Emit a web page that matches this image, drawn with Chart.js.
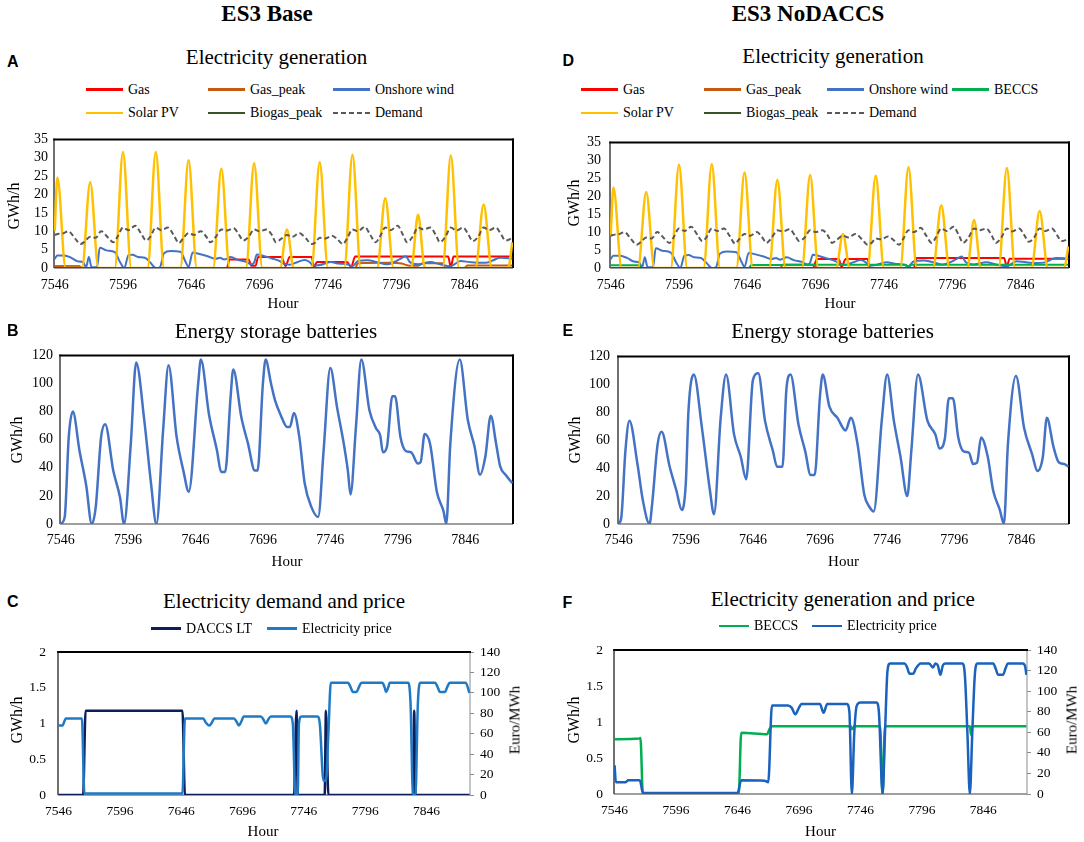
<!DOCTYPE html>
<html>
<head>
<meta charset="utf-8">
<script src="https://cdn.jsdelivr.net/npm/chart.js@4.4.1/dist/chart.umd.min.js"></script>
<style>
body { margin: 0; background: #fff; }
#fig { position: relative; width: 1084px; height: 842px; overflow: hidden; font-family: "Liberation Serif", "Times New Roman", serif; color: #000; }
.t { position: absolute; white-space: nowrap; line-height: 1; transform: translate(-50%, -50%); }
.v { transform: translate(-50%, -50%) rotate(-90deg); }
.letter { font-family: "Liberation Sans", Arial, sans-serif; font-weight: bold; font-size: 16px; transform: translate(0, -50%); }
.lg { position: absolute; display: flex; align-items: center; font-family: "Liberation Serif", "Times New Roman", serif; font-size: 14px; line-height: 1; white-space: nowrap; transform: translateY(-50%); }
.lg i { display: inline-block; margin-right: 5px; }
canvas { position: absolute; }
</style>
</head>
<body>
<div id="fig"></div>
<script>
const SERIF = '"Liberation Serif", "Times New Roman", serif';

// x axis: hours 7546..7881, labelled every 50
const hourMin = 7545.5;
const hourMax = 7881.5;
const hourTicks = [7546, 7596, 7646, 7696, 7746, 7796, 7846];
const genTicks = [0, 5, 10, 15, 20, 25, 30, 35];
const batteryTicks = [0, 20, 40, 60, 80, 100, 120];
const gwhTicks = [0, 0.5, 1, 1.5, 2];
const priceTicks = [0, 20, 40, 60, 80, 100, 120, 140];

// ---- panel A / D : electricity generation (hour, GWh/h) ----
const solarA = [[7546,10],[7548,24.6],[7554,0],[7566,0],[7572,23.4],[7578,0],[7590,0],[7596,31.6],[7602,0],
  [7614,0],[7620,31.6],[7626,0],[7638,0],[7644,29.3],[7650,0],[7662,0],[7668,27],[7674,0],[7686,0],[7692,28.5],[7698,0],
  [7711,0],[7716,10.5],[7721,0],[7734,0],[7740,28.8],[7746,0],[7758,0],[7764,30.8],[7770,0],[7782,0],[7788,19],[7794,0],
  [7807,0],[7812,14.5],[7817,0],[7830,0],[7836,30.6],[7842,0],[7854,0],[7860,17.3],[7866,0],[7878,0],[7881,7]];
const solarD = [[7546,9],[7548,22.4],[7554,0],[7566,0],[7572,21.2],[7578,0],[7590,0],[7596,28.8],[7602,0],
  [7614,0],[7620,28.9],[7626,0],[7638,0],[7644,26.6],[7650,0],[7662,0],[7668,24.6],[7674,0],[7686,0],[7692,25.9],[7698,0],
  [7711,0],[7716,9.5],[7721,0],[7734,0],[7740,25.7],[7746,0],[7758,0],[7764,28.1],[7770,0],[7782,0],[7788,17.5],[7794,0],
  [7807,0],[7812,13.4],[7817,0],[7830,0],[7836,27.9],[7842,0],[7854,0],[7860,15.9],[7866,0],[7878,0],[7881,6]];
const demand = [[7546,9],[7549,9.3],[7552,9.4],[7556,10],[7561,8],[7565,6.5],[7568,7.2],[7572,8.5],[7576,8.2],[7580,10],
  [7585,8.3],[7589,7],[7592,8.5],[7596,11],[7600,10.3],[7605,11.5],[7609,9.5],[7613,7.5],[7616,8.5],[7620,11],[7624,10.3],
  [7629,11],[7633,9],[7637,6.8],[7640,8],[7644,9.5],[7648,9],[7653,10],[7657,8.5],[7660,7],[7664,8.5],[7668,10.5],
  [7672,10.2],[7677,10.8],[7681,9],[7684,7.5],[7688,8.5],[7692,10.5],[7696,10],[7701,10.5],[7705,9],[7708,7],[7712,8],
  [7716,9],[7720,8.5],[7725,9.5],[7730,8],[7734,6.5],[7737,7],[7740,8.2],[7744,8],[7749,8.8],[7753,7.8],[7757,6.5],
  [7760,8],[7764,10.5],[7768,10],[7773,11.2],[7777,9],[7781,7],[7784,8.5],[7788,11],[7792,10.3],[7797,11.5],[7801,9],
  [7804,7],[7808,8.5],[7812,11],[7816,10.5],[7821,11],[7825,9],[7828,7],[7832,8.5],[7836,11],[7840,10.2],[7845,11],
  [7849,9],[7852,7.3],[7856,8.5],[7860,11],[7864,10.3],[7869,11],[7873,9],[7876,7.5],[7879,7.8],[7881,8.5]];
const onshoreWind = [[7546,2.5],[7548,3.4],[7553,3.4],[7558,2.8],[7563,1.8],[7567,1.5],[7569,0.2],[7571,3],[7573,0.2],
  [7577,0.3],[7579,5.5],[7584,4.8],[7590,4.3],[7594,1.5],[7597,0],[7600,3.5],[7603,3.6],[7607,3],[7612,2.8],[7616,1.5],
  [7620,0],[7623,0.2],[7626,4],[7631,4.6],[7638,4.4],[7642,1.5],[7644,0.3],[7647,4.2],[7652,3.8],[7658,3.2],[7664,2.5],
  [7667,2.8],[7670,2.3],[7675,3],[7680,2.2],[7686,1.7],[7690,1],[7692,1.5],[7694,3.7],[7699,3.3],[7705,2.6],[7710,2],
  [7714,1.2],[7718,0.9],[7723,1.5],[7729,2.2],[7733,1.5],[7735,0.6],[7740,0.8],[7748,1.6],[7754,1.2],[7760,1],[7764,0.5],
  [7768,1.9],[7775,2.1],[7782,1.6],[7789,1],[7794,1.5],[7799,2.5],[7803,3.2],[7806,1.6],[7812,1],[7821,1.6],[7828,1],
  [7836,0.5],[7843,1.9],[7850,1.6],[7858,1.4],[7863,1.5],[7867,2.1],[7872,2.8],[7877,2.7],[7881,2.5]];
const gasA = [[7546,0.4],[7564,0.4],[7566,0],[7672,0],[7674,2.3],[7688,2.3],[7690,0.6],[7693,0.6],[7695,3],[7712,3],
  [7715,0.5],[7718,3],[7734,3],[7736,0.2],[7738,1.6],[7760,1.6],[7763,0.3],[7766,3.1],[7834,3.1],[7836,0.3],[7838,3.1],[7881,3.1]];
const gasPeakA = [[7546,0.5],[7564,0.5],[7566,0],[7766,0],[7768,1.3],[7792,1.4],[7800,1.2],[7806,0.6],[7812,0.6],
  [7816,1.3],[7830,1.3],[7832,0],[7846,0],[7848,0.7],[7881,0.7]];
const gasD = [[7546,0],[7694,0],[7697,2.5],[7713,2.5],[7715,0.3],[7718,2.5],[7734,2.5],[7736,0],[7768,0],[7770,2.8],
  [7834,2.8],[7836,0.3],[7838,2.6],[7881,2.6]];
const gasPeakD = [[7546,0],[7670,0],[7672,0.9],[7695,0.9],[7697,0],[7881,0]];
const biogasPeak = [[7546,0],[7881,0]];
const beccs = [[7546,0.76],[7566,0.77],[7567,0.78],[7569,0],[7647,0],[7649,0.85],[7670,0.83],[7672,0.9],[7674,0.94],
  [7738,0.94],[7739,0.9],[7741,0.94],[7762,0.94],[7764,0],[7766,0.94],[7835,0.94],[7836,0.82],[7837,0.94],[7881,0.94]];

// ---- panel B / E : energy storage batteries (GWh/h) ----
const batteryB = [[7546,0],[7549,5],[7552,62],[7555,80],[7560,52],[7565,27],[7569,0],[7572,12],[7576,62],[7579,71],
  [7585,38],[7590,19],[7593,0],[7598,57],[7602,115],[7608,74],[7613,29],[7617,0],[7622,67],[7626,113],[7632,62],[7637,38],
  [7641,23],[7648,100],[7650,117],[7656,78],[7662,52],[7665,37],[7668,37],[7672,90],[7674,110],[7680,76],[7685,57],
  [7690,38],[7692,38],[7696,100],[7698,117],[7702,100],[7705,88],[7709,78],[7714,69],[7716,69],[7719,79],[7723,62],
  [7727,29],[7732,12],[7737,5],[7741,52],[7746,111],[7751,83],[7756,57],[7759,38],[7761,21],[7765,69],[7769,117],
  [7775,81],[7780,68],[7783,63],[7785,51],[7788,55],[7792,91],[7794,91],[7798,62],[7802,52],[7806,51],[7811,43],
  [7813,44],[7816,64],[7820,57],[7825,23],[7830,9],[7832,0],[7835,57],[7842,117],[7848,74],[7853,55],[7857,35],
  [7861,48],[7865,77],[7869,57],[7872,41],[7876,35],[7881,29]];
const batteryE = [[7546,0],[7548,5],[7551,52],[7554,74],[7560,43],[7564,17],[7569,0],[7571,15],[7575,57],[7578,66],
  [7584,41],[7589,24],[7593,10],[7596,29],[7598,81],[7602,107],[7608,69],[7614,24],[7617,7],[7622,76],[7626,107],
  [7632,64],[7637,48],[7641,32],[7646,103],[7650,108],[7655,74],[7661,52],[7664,41],[7668,41],[7671,97],[7674,107],
  [7680,71],[7685,52],[7689,35],[7692,35],[7696,92],[7698,107],[7703,84],[7709,76],[7715,67],[7719,76],[7724,57],
  [7729,21],[7733,12],[7736,9],[7742,74],[7746,107],[7751,74],[7756,48],[7761,20],[7764,52],[7769,107],[7776,74],
  [7782,64],[7785,54],[7789,61],[7792,90],[7795,90],[7799,62],[7803,52],[7807,51],[7810,43],[7813,44],[7816,62],
  [7821,48],[7825,24],[7830,10],[7833,0],[7836,57],[7842,106],[7848,69],[7854,50],[7858,38],[7862,48],[7865,76],
  [7870,55],[7874,44],[7878,43],[7881,41]];

// ---- panel C / F : GWh/h (left) and Euro/MWh (right) ----
const daccsLT = [[7546,0],[7566,0],[7568,1.18],[7647,1.18],[7649,0],[7738,0],[7740,1.18],[7741,0],[7763,0],[7764,1.18],
  [7766,0],[7835,0],[7836,1.18],[7837,0],[7881,0]];
const priceC = [[7546,68],[7549,68],[7552,75],[7565,75],[7567,1.5],[7647,1.5],[7649,75],[7664,75],[7666,71],[7669,68],
  [7671,71],[7673,75],[7689,75],[7691,72],[7693,68],[7695,72],[7697,77],[7711,77],[7713,74],[7715,70],[7717,74],[7719,77],
  [7735,77],[7737,70],[7739,0],[7741,0],[7742,70],[7744,77],[7757,77],[7759,70],[7762,14],[7764,14],[7766,60],[7768,110],
  [7782,110],[7784,106],[7786,101],[7789,101],[7791,106],[7793,110],[7810,110],[7812,105],[7813,101],[7815,106],
  [7816,110],[7831,110],[7833,90],[7835,0],[7837,0],[7839,90],[7841,110],[7853,110],[7855,106],[7857,101],[7861,101],
  [7863,106],[7865,110],[7878,110],[7881,100]];
const priceF = [[7546,28],[7547,11.5],[7555,11.5],[7557,13.4],[7566,13.4],[7567,12],[7569,1],[7646,1],[7649,13.4],
  [7668,13],[7671,11.5],[7674,86],[7687,86],[7690,84],[7693,77.5],[7696,84],[7698,87.5],[7713,87.5],[7716,79],[7719,87.5],
  [7735,87.5],[7737,80],[7739,0],[7741,60],[7743,86],[7746,89],[7759,89],[7761,80],[7764,0],[7766,60],[7768,120],
  [7770,127],[7782,127],[7784,123],[7786,117],[7789,117],[7791,122],[7795,127],[7802,127],[7805,123],[7807,127],
  [7809,125],[7811,116],[7813,125],[7815,127],[7829,127],[7831,115],[7833,60],[7835,0],[7837,60],[7839,115],[7841,127],
  [7854,127],[7856,122],[7858,116],[7862,116],[7864,122],[7866,127],[7878,127],[7880,124],[7881,116]];

const fig = document.getElementById('fig');

function addText(txt, x, y, cls, size, weight) {
  const d = document.createElement('div');
  d.className = 't ' + (cls || '');
  d.textContent = txt;
  d.style.left = x + 'px';
  d.style.top = y + 'px';
  if (size) d.style.fontSize = size + 'px';
  if (weight) d.style.fontWeight = weight;
  fig.appendChild(d);
}

function addLegend(entries, y, lineLen) {
  entries.forEach(([s, x]) => {
    const d = document.createElement('div');
    d.className = 'lg';
    d.style.left = x + 'px';
    d.style.top = y + 'px';
    const mark = document.createElement('i');
    mark.style.width = lineLen + 'px';
    mark.style.height = (s.dash ? 2 : 2.5) + 'px';
    mark.style.background = s.dash
      ? `repeating-linear-gradient(90deg, ${s.color} 0 ${s.dash[0]}px, transparent ${s.dash[0]}px ${s.dash[0] + s.dash[1]}px)`
      : s.color;
    d.appendChild(mark);
    d.appendChild(document.createTextNode(s.label));
    fig.appendChild(d);
  });
}

const framePlugin = {
  id: 'frame',
  beforeDatasetsDraw(chart, args, opts) {
    const { ctx, chartArea: a } = chart;
    const seg = (x1, y1, x2, y2, c, w) => {
      ctx.beginPath(); ctx.strokeStyle = c; ctx.lineWidth = w;
      ctx.moveTo(x1, y1); ctx.lineTo(x2, y2); ctx.stroke();
    };
    ctx.save();
    seg(a.left, a.bottom, a.right, a.bottom, '#7f7f7f', 1.5);
    seg(a.left, a.top - 1, a.left, a.bottom, '#404040', 1.5);
    seg(a.right, a.top - 1, a.right, a.bottom, opts.rightColor, opts.rightWidth);
    seg(a.left - 0.75, a.top, a.right + 1, a.top, '#000', 2);
    ctx.restore();
  }
};

function makeChart(p) {
  const padL = 50, padT = 14, padB = 34, padR = p.right ? 50 : 14;
  const w = p.r - p.l, h = p.b - p.t;
  const cv = document.createElement('canvas');
  cv.width = w + padL + padR;
  cv.height = h + padT + padB;
  cv.style.left = (p.l - padL) + 'px';
  cv.style.top = (p.t - padT) + 'px';
  fig.appendChild(cv);

  const font = { family: SERIF, size: p.fs || 14 };
  const fixTicks = arr => s => { s.ticks = arr.map(v => ({ value: v })); };
  const n = p.series.length;
  const scales = {
    x: {
      type: 'linear', min: hourMin, max: hourMax,
      grid: { display: false, drawTicks: false }, border: { display: false },
      afterBuildTicks: fixTicks(hourTicks),
      afterFit: s => { s.height = padB; },
      ticks: { autoSkip: false, maxRotation: 0, padding: p.xPad, color: '#000', font, callback: v => String(v) }
    },
    y: {
      position: 'left', min: p.left[0], max: p.left[p.left.length - 1],
      grid: { display: false, drawTicks: false }, border: { display: false },
      afterBuildTicks: fixTicks(p.left),
      afterFit: s => { s.width = padL; },
      ticks: { autoSkip: false, padding: p.yPad, color: '#000', font, callback: v => String(v) }
    }
  };
  if (p.right) {
    scales.y2 = {
      position: 'right', min: p.right[0], max: p.right[p.right.length - 1],
      grid: { display: true, drawOnChartArea: false, drawTicks: true, tickLength: 4, color: '#8c8c8c', lineWidth: 1 },
      border: { display: false },
      afterBuildTicks: fixTicks(p.right),
      afterFit: s => { s.width = padR; },
      ticks: { autoSkip: false, padding: 6, color: '#000', font, callback: v => String(v) }
    };
  }

  new Chart(cv, {
    type: 'line',
    data: {
      datasets: p.series.map((s, i) => ({
        label: s.label,
        data: s.data.map(([x, y]) => ({ x, y })),
        borderColor: s.color,
        borderWidth: s.width || 2,
        borderDash: s.dash || [],
        pointRadius: 0,
        fill: false,
        cubicInterpolationMode: 'monotone',
        yAxisID: s.axis || 'y',
        order: n - i
      }))
    },
    options: {
      responsive: false,
      animation: false,
      events: [],
      layout: { padding: { top: padT, right: p.right ? 0 : padR, left: 0, bottom: 0 } },
      scales,
      plugins: {
        legend: { display: false },
        tooltip: { enabled: false },
        frame: p.right ? { rightColor: '#8c8c8c', rightWidth: 1 } : { rightColor: '#000', rightWidth: 2 }
      }
    },
    plugins: [framePlugin]
  });
}

// series definitions
const sGas = c => ({ label: 'Gas', data: c, color: '#ff0000' });
const sGasPeak = c => ({ label: 'Gas_peak', data: c, color: '#c55a11' });
const sWind = { label: 'Onshore wind', data: onshoreWind, color: '#4472c4' };
const sSolar = c => ({ label: 'Solar PV', data: c, color: '#ffc000', width: 2.5 });
const sBiogas = { label: 'Biogas_peak', data: biogasPeak, color: '#375623' };
const sDemand = { label: 'Demand', data: demand, color: '#595959', dash: [5, 3] };
const sBeccs = { label: 'BECCS', data: beccs, color: '#00b050' };

const genA = [sGas(gasA), sGasPeak(gasPeakA), sWind, sSolar(solarA), sBiogas, sDemand];
const genD = [sGas(gasD), sGasPeak(gasPeakD), sWind, sBeccs, sSolar(solarD), sBiogas, sDemand];
const batB = [{ label: 'Batteries', data: batteryB, color: '#4472c4', width: 2.5 }];
const batE = [{ label: 'Batteries', data: batteryE, color: '#4472c4', width: 2.5 }];
const demC = [
  { label: 'DACCS LT', data: daccsLT, color: '#0d1e5a', width: 2.5 },
  { label: 'Electricity price', data: priceC, color: '#1f7ac6', width: 2.5, axis: 'y2' }
];
const genF = [
  { label: 'BECCS', data: beccs, color: '#00b050', width: 2.5 },
  { label: 'Electricity price', data: priceF, color: '#1a62be', width: 2.5, axis: 'y2' }
];

makeChart({ l: 54, t: 139, r: 513, b: 268, series: genA, left: genTicks, xPad: 9, yPad: 6 });
makeChart({ l: 610, t: 139, r: 1069, b: 268, series: genD, left: genTicks, xPad: 9, yPad: 9 });
makeChart({ l: 60, t: 354, r: 513, b: 524, series: batB, left: batteryTicks, xPad: 8, yPad: 7 });
makeChart({ l: 618, t: 354, r: 1069, b: 524, series: batE, left: batteryTicks, xPad: 8, yPad: 8 });
makeChart({ l: 58, t: 646, r: 470, b: 795, series: demC, left: gwhTicks, right: priceTicks, xPad: 8, yPad: 12, fs: 13.5 });
makeChart({ l: 614, t: 645, r: 1027, b: 794, series: genF, left: gwhTicks, right: priceTicks, xPad: 8, yPad: 11, fs: 13.5 });

// headings and panel titles
addText('ES3 Base', 267, 13, '', 23, 'bold');
addText('ES3 NoDACCS', 808, 13, '', 23, 'bold');
addText('Electricity generation', 276.5, 56.5, '', 21);
addText('Electricity generation', 833, 56, '', 21);
addText('Energy storage batteries', 276, 331, '', 21);
addText('Energy storage batteries', 832.6, 331, '', 21);
addText('Electricity demand and price', 284, 601, '', 21);
addText('Electricity generation and price', 842.8, 599, '', 21);

[['A', 7, 62], ['D', 562.5, 61], ['B', 7, 331], ['E', 562.5, 331], ['C', 7, 602], ['F', 562.5, 603]]
  .forEach(([c, x, y]) => addText(c, x, y, 'letter'));

// axis titles
[[13.5, 206], [574, 203], [17, 440], [575, 440], [17, 720], [574, 720]]
  .forEach(([x, y]) => addText('GWh/h', x, y, 'v', 16));
addText('Euro/MWh', 515, 720, 'v', 15);
addText('Euro/MWh', 1071.5, 720, 'v', 15);
[[283, 303], [840, 303], [287, 561], [843.5, 561], [263, 831], [820.5, 831]]
  .forEach(([x, y]) => addText('Hour', x, y, '', 15));

// legends
addLegend([[genA[0], 86], [genA[1], 208], [genA[2], 333]], 89.5, 37);
addLegend([[genA[3], 86], [genA[4], 208], [genA[5], 333]], 113, 37);
addLegend([[genD[0], 581], [genD[1], 704], [genD[2], 827], [genD[3], 952]], 89.5, 37);
addLegend([[genD[4], 581], [genD[5], 704], [genD[6], 827]], 113, 37);
addLegend([[demC[0], 151], [demC[1], 267]], 628.5, 30);
addLegend([[genF[0], 719], [genF[1], 812]], 626, 30);
</script>
</body>
</html>
